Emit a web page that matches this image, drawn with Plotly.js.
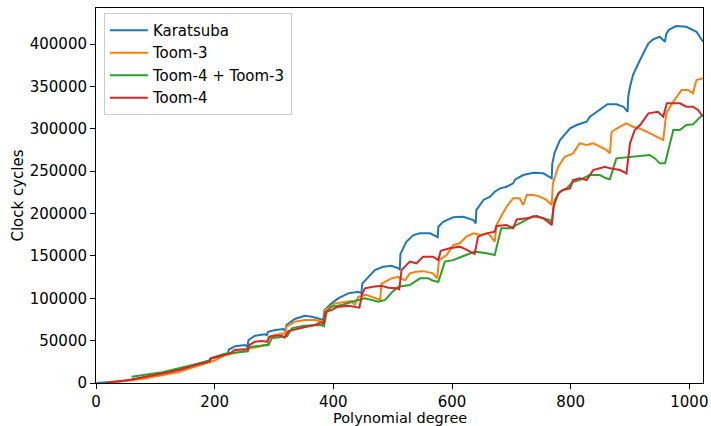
<!DOCTYPE html>
<html>
<head>
<meta charset="utf-8">
<script src="https://cdn.plot.ly/plotly-3.0.1.min.js"></script>
<style>html,body{margin:0;padding:0;background:#fff;}#chart{width:711px;height:426px;}</style>
</head>
<body>
<div id="chart"></div>
<script>
// Series names
const seriesNames = ["Karatsuba", "Toom-3", "Toom-4 + Toom-3", "Toom-4"];

// Karatsuba
const karatsubaDeg = [1,20,40,60,80,100,127,128,159,160,191,192,222,224,235,251,255,257,268,285,288,290,302,316,319,321,335,352,364,375,383,385,397,408,425,442,447,449,459,470,484,498,510,512,513,523,535,546,563,574,576,577,585,602,619,636,640,641,653,664,672,681,692,703,706,720,737,754,768,769,773,782,793,799,810,821,827,832,849,862,877,889,896,897,900,905,914,922,931,939,950,959,961,966,978,995,1012,1023];
const karatsubaCycles = [0,500,1800,3800,6300,9200,13000,14000,19500,20500,26500,28500,34500,39500,43500,44800,42800,50700,55800,57400,56500,60500,62500,63700,61300,68400,75500,79400,78200,76300,74300,86000,94000,99900,105800,107700,105800,117600,125400,133300,137200,138400,135300,133500,152000,166700,174600,176600,176600,172700,172000,184400,190300,195500,196200,192300,188400,204000,216000,219900,225700,229700,231600,235600,240000,245400,248000,247400,241500,259000,272000,286700,296500,300500,304400,306400,308300,314000,323000,329000,329000,326000,320000,338000,349600,363400,377000,389000,400800,405500,408600,402700,412000,417000,421200,420400,414500,402700];

// Toom-3
const toom3Deg = [16,40,60,84,100,120,140,160,180,200,217,234,251,256,258,274,285,289,291,302,316,319,321,335,352,369,380,384,386,403,420,431,436,442,455,470,479,481,498,509,512,521,529,540,551,568,575,578,591,602,613,624,636,647,661,672,675,684,692,703,714,720,726,737,748,759,768,770,779,790,804,815,827,838,849,860,866,869,883,894,905,916,928,939,956,961,973,987,998,1006,1012,1023];
const toom3Cycles = [300,1500,3200,5500,7500,10000,13000,17500,22000,26500,33000,35000,37700,38500,40900,42800,44800,44500,54600,56600,58600,57500,66400,72300,74300,74300,72300,68400,86000,94000,96000,96700,92000,101800,104000,100000,98000,117000,123500,125400,123500,121500,129400,131400,132000,129400,123500,145000,151000,162800,164800,172700,176600,174600,176600,166700,186400,198200,208000,217900,217900,210000,221800,221800,219900,216000,210000,235600,255300,267000,271000,282800,280800,282800,278900,275000,271000,296500,302400,306400,302400,300400,296500,292600,286700,318200,332000,345700,345700,341800,357500,359500];

// Toom-4 + Toom-3
const toom43Deg = [60,84,112,140,168,191,194,213,217,240,251,256,258,285,291,296,318,322,330,350,380,384,389,397,414,431,442,453,465,476,487,500,510,529,546,560,568,577,588,602,616,624,639,658,672,683,698,714,737,754,765,768,773,782,793,804,815,832,849,860,866,877,905,933,942,950,959,973,984,995,1006,1022];
const toom43Cycles = [7400,9400,12600,17300,22000,26000,29500,33000,34500,36200,37000,37500,42500,44800,45000,52700,54600,55000,64500,67500,68400,67000,84000,90000,92000,96000,98000,99900,97500,96000,98000,108000,113600,115600,123500,123500,120700,119500,143200,145000,149000,151000,155000,153000,151000,182500,182500,188400,197000,194300,192300,188000,215900,225700,229700,237500,239500,245400,245400,241500,240500,265100,267000,269000,265000,259200,259200,298500,298500,304400,305200,316200];

// Toom-4
const toom4Deg = [16,34,56,84,112,140,168,191,194,213,225,234,251,256,258,268,279,288,293,302,313,318,324,341,355,369,380,384,387,397,408,425,440,444,448,453,467,481,493,507,511,515,529,540,551,568,577,581,596,613,625,638,644,658,672,675,692,703,709,726,743,754,765,768,771,779,787,799,804,815,827,838,849,858,866,883,894,900,908,917,931,947,956,962,984,995,1006,1015,1023];
const toom4Cycles = [300,1500,3500,7400,11400,15300,21200,25100,29000,32200,34500,38900,39700,40000,44800,48700,49500,48700,54600,55800,55800,53500,61300,64500,66400,68400,71600,70500,84000,86000,90000,91000,90000,88900,103800,111700,113600,114800,112500,111700,110500,133300,143200,141200,149000,149000,145000,156000,158900,160900,157000,152200,172700,176600,178600,185200,186400,182500,193000,194300,197000,194300,188400,186400,208000,223800,227700,229700,239500,241500,239500,251300,253300,255000,253300,251300,247400,282800,298500,304400,318200,320100,314200,330000,330000,326000,326000,322000,314200];

// Axis ticks and titles
const xTicks = [0, 200, 400, 600, 800, 1000];
const yTicks = [0, 50000, 100000, 150000, 200000, 250000, 300000, 350000, 400000];
const xTitle = "Polynomial degree";
const yTitle = "Clock cycles";

const colors = ["#1f77b4", "#ff7f0e", "#2ca02c", "#d62728"];
const xs = [karatsubaDeg, toom3Deg, toom43Deg, toom4Deg];
const ys = [karatsubaCycles, toom3Cycles, toom43Cycles, toom4Cycles];

const traces = seriesNames.map((n, i) => ({
  type: "scatter",
  mode: "lines",
  name: n,
  x: xs[i],
  y: ys[i],
  line: { color: colors[i], width: 2 }
}));

const font = { family: "DejaVu Sans", size: 15, color: "#000" };

const layout = {
  width: 711,
  height: 426,
  margin: { l: 96, r: 8, t: 8, b: 43 },
  paper_bgcolor: "#fff",
  plot_bgcolor: "#fff",
  font: font,
  showlegend: true,
  legend: {
    x: 0.013, y: 0.987, xanchor: "left", yanchor: "top",
    bgcolor: "rgba(255,255,255,0.8)",
    bordercolor: "#cccccc",
    borderwidth: 1,
    itemwidth: 38,
    font: font
  },
  xaxis: {
    range: [0, 1023],
    tickvals: xTicks,
    tickformat: "d",
    showgrid: false, zeroline: false,
    showline: true, mirror: true, linecolor: "#000", linewidth: 1,
    ticks: "outside", ticklen: 5, tickwidth: 1, tickcolor: "#000",
    automargin: false
  },
  yaxis: {
    range: [0, 442500],
    tickvals: yTicks,
    tickformat: "d",
    showgrid: false, zeroline: false,
    showline: true, mirror: true, linecolor: "#000", linewidth: 1,
    ticks: "outside", ticklen: 5, tickwidth: 1, tickcolor: "#000",
    title: { text: yTitle, font: font, standoff: 2 },
    automargin: false
  },
  annotations: [{
    text: xTitle,
    xref: "paper", yref: "paper",
    x: 0.5, y: 0,
    xanchor: "center", yanchor: "middle",
    yshift: -35,
    showarrow: false,
    font: { family: "DejaVu Sans", size: 14.5, color: "#000" }
  }]
};

Plotly.newPlot("chart", traces, layout, { displayModeBar: false, staticPlot: true });
</script>
</body>
</html>
